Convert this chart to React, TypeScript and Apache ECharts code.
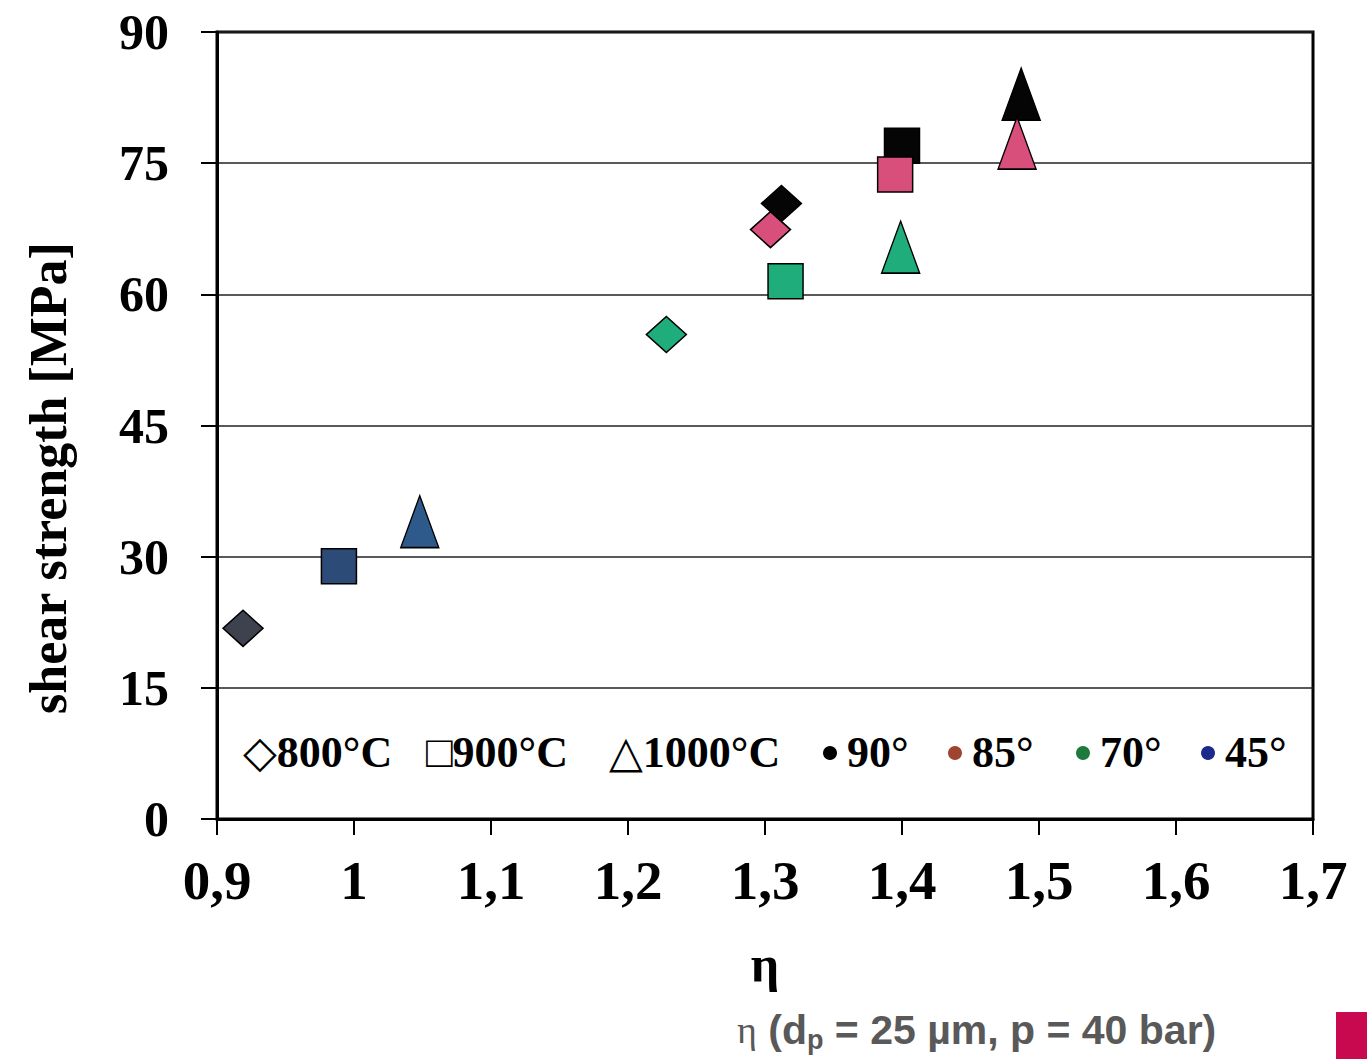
import React, { useEffect, useRef } from "react";
import * as echarts from "echarts";

// η values (x) and shear strength [MPa] (y) per angle; order: 800°C, 900°C, 1000°C
const eta90 = [1.312, 1.4, 1.487];
const tau90 = [70.4, 77.0, 82.9];
const eta85 = [1.304, 1.395, 1.484];
const tau85 = [67.4, 73.7, 77.3];
const eta70 = [1.228, 1.315, 1.399];
const tau70 = [55.4, 61.5, 65.4];
const eta45 = [0.919, 0.989, 1.048];
const tau45 = [21.8, 28.9, 34.0];

const temperatures = ["800°C", "900°C", "1000°C"];
const angleLabels = ["90°", "85°", "70°", "45°"];
const legendDotColors = ["#000000", "#a0432f", "#1e7a3c", "#1c2a8c"];

const xTicks = { min: 0.9, max: 1.7, interval: 0.1 };
const yTicks = { min: 0, max: 90, interval: 15 };

const shapes = ["diamond", "rect", "triangle"];
const shapeSizes: any[] = [[40, 36], [35, 35], [38, 52]];
// marker fill per angle and temperature
const fills90 = ["#050505", "#050505", "#050505"];
const fills85 = ["#d84f7c", "#d84f7c", "#d84f7c"];
const fills70 = ["#1fae7b", "#1fae7b", "#1fae7b"];
const fills45 = ["#3d424e", "#2d4b77", "#2d5a8b"];

const SERIF = "'Liberation Serif', 'Times New Roman', 'DejaVu Serif', serif";
const SANS = "'Liberation Sans', Arial, sans-serif";

export default function App() {
  const ref = useRef<HTMLDivElement>(null);
  useEffect(() => {
    if (!ref.current) return;
    const chart = echarts.init(ref.current, null, { renderer: "svg" });
    const groups = [
      { a: angleLabels[0], eta: eta90, tau: tau90, fills: fills90 },
      { a: angleLabels[1], eta: eta85, tau: tau85, fills: fills85 },
      { a: angleLabels[2], eta: eta70, tau: tau70, fills: fills70 },
      { a: angleLabels[3], eta: eta45, tau: tau45, fills: fills45 },
    ];
    const series: any[] = [];
    groups.forEach((g, gi) => {
      temperatures.forEach((t, ti) => {
        series.push({
          name: `${t} ${g.a}`,
          type: "scatter",
          symbol: shapes[ti],
          symbolSize: shapeSizes[ti],
          z: 10 + gi,
          itemStyle: { color: g.fills[ti], borderColor: "#000", borderWidth: 1.5, opacity: 1 },
          data: [[g.eta[ti], g.tau[ti]]],
        });
      });
    });

    const legendItems = [
      { text: "◇800°C", x: 243 },
      { text: "□900°C", x: 426 },
      { text: "△1000°C", x: 609 },
    ];
    const dotX = [830, 955, 1083, 1208];
    const graphic: any[] = [];
    legendItems.forEach((l) => {
      graphic.push({
        type: "text",
        left: l.x,
        top: 730,
        style: { text: l.text, font: `bold 44px ${SERIF}`, fill: "#000" },
      });
    });
    angleLabels.forEach((a, i) => {
      graphic.push({
        type: "circle",
        shape: { cx: dotX[i], cy: 753, r: 7 },
        style: { fill: legendDotColors[i] },
      });
      graphic.push({
        type: "text",
        left: dotX[i] + 17,
        top: 730,
        style: { text: a, font: `bold 44px ${SERIF}`, fill: "#000" },
      });
    });
    graphic.push({
      type: "text",
      x: 48,
      y: 478,
      rotation: Math.PI / 2,
      style: {
        text: "shear strength [MPa]",
        font: `bold 52px ${SERIF}`,
        fill: "#000",
        align: "center",
        verticalAlign: "middle",
      },
    });
    graphic.push({
      type: "text",
      x: 737,
      y: 1030,
      style: {
        text: "{e|η}{a| (d}{s|p}{a| = 25 µm, p = 40 bar)}",
        verticalAlign: "middle",
        fill: "#595959",
        rich: {
          e: { font: `38px ${SERIF}`, fill: "#595959" },
          a: { font: `bold 41px ${SANS}`, fill: "#595959" },
          s: { font: `bold 27px ${SANS}`, fill: "#595959", padding: [20, 0, 0, 0] },
        },
      },
    });
    graphic.push({
      type: "rect",
      shape: { x: 1336, y: 1012, width: 31, height: 47 },
      style: { fill: "#c8084f" },
    });

    chart.setOption({
      animation: false,
      backgroundColor: "#ffffff",
      grid: {
        left: 217,
        right: 54,
        top: 32,
        bottom: 240,
        show: true,
        borderColor: "#000",
        borderWidth: 3,
        backgroundColor: "transparent",
      },
      xAxis: {
        type: "value",
        min: xTicks.min,
        max: xTicks.max,
        interval: xTicks.interval,
        name: "η",
        nameLocation: "middle",
        nameGap: 120,
        nameTextStyle: { fontFamily: SERIF, fontWeight: "bold", fontSize: 50, color: "#000" },
        axisLine: { show: true, onZero: false, lineStyle: { color: "#000", width: 3 } },
        axisTick: { show: true, inside: false, length: 16, lineStyle: { color: "#000", width: 2 } },
        splitLine: { show: false },
        axisLabel: {
          margin: 34,
          color: "#000",
          fontFamily: SERIF,
          fontWeight: "bold",
          fontSize: 55,
          formatter: (v: number) => String(Number(v.toFixed(1))).replace(".", ","),
        },
      },
      yAxis: {
        type: "value",
        min: yTicks.min,
        max: yTicks.max,
        interval: yTicks.interval,
        axisLine: { show: true, lineStyle: { color: "#000", width: 3 } },
        axisTick: { show: true, inside: false, length: 16, lineStyle: { color: "#000", width: 2 } },
        splitLine: { show: true, lineStyle: { color: "#222", width: 1.5 } },
        axisLabel: {
          margin: 48,
          color: "#000",
          fontFamily: SERIF,
          fontWeight: "bold",
          fontSize: 50,
        },
      },
      graphic,
      series,
    });
    return () => chart.dispose();
  }, []);
  return (
    <div
      ref={ref}
      style={{ position: "fixed", left: 0, top: 0, width: 1367, height: 1059, background: "#fff" }}
    />
  );
}
